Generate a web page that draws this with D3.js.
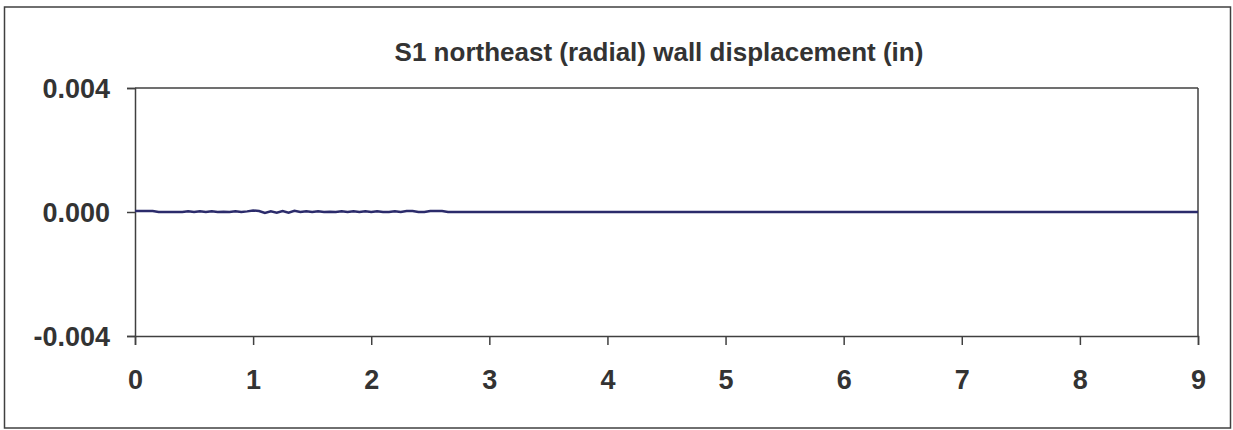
<!DOCTYPE html>
<html>
<head>
<meta charset="utf-8">
<script src="https://cdn.jsdelivr.net/npm/d3@7/dist/d3.min.js"></script>
<style>
  html, body { margin: 0; padding: 0; background: #fff; }
  svg { display: block; }
  text { font-family: "Liberation Sans", Arial, sans-serif; font-weight: bold; fill: #333; }
</style>
</head>
<body>
<svg id="chart" width="1233" height="430"></svg>
<script>
const title = "S1 northeast (radial) wall displacement (in)";
const xTicks = [0, 1, 2, 3, 4, 5, 6, 7, 8, 9];
const yTicks = [-0.004, 0.000, 0.004];
const yTickLabels = ["-0.004", "0.000", "0.004"];

// time (s)
const time = [0, 0.05, 0.1, 0.15, 0.2, 0.25, 0.3, 0.35, 0.4, 0.45,
  0.5, 0.55, 0.6, 0.65, 0.7, 0.75, 0.8, 0.85, 0.9, 0.95,
  1.0, 1.05, 1.1, 1.15, 1.2, 1.25, 1.3, 1.35, 1.4, 1.45,
  1.5, 1.55, 1.6, 1.65, 1.7, 1.75, 1.8, 1.85, 1.9, 1.95,
  2.0, 2.05, 2.1, 2.15, 2.2, 2.25, 2.3, 2.35, 2.4, 2.45,
  2.5, 2.55, 2.6, 2.65, 2.7, 3, 4, 5, 6, 7, 8, 9];
// displacement (in)
const displacement = [0.00003, 0.00003, 0.00003, 0.00003, 0, 0, 0, 0, 0, 0.00002,
  0, 0.00002, 0, 0.00002, 0, 0.00001, 0, 0.00002, 0, 0.00002,
  0.00005, 0.00003, -0.00003, 0.00002, -0.00002, 0.00003, -0.00002, 0.00004, 0, 0.00002,
  0, 0.00002, 0, 0.00001, 0, 0.00002, 0, 0.00002, 0, 0.00002,
  0, 0.00002, 0, 0, 0.00002, 0, 0.00003, 0.00003, 0, 0,
  0.00003, 0.00003, 0.00003, 0, 0, 0, 0, 0, 0, 0, 0, 0];

const svg = d3.select("#chart");
const axisColor = "#404040";

svg.append("rect")
  .attr("x", 4.5).attr("y", 7).attr("width", 1226).attr("height", 421)
  .attr("fill", "none").attr("stroke", axisColor).attr("stroke-width", 1.5);

const x = d3.scaleLinear().domain([0, 9]).range([135, 1198]);
const y = d3.scaleLinear().domain([-0.004, 0.004]).range([336, 88]);

// plot frame (top & right lines)
svg.append("line").attr("x1", 135).attr("x2", 1198).attr("y1", 88).attr("y2", 88)
  .attr("stroke", axisColor).attr("stroke-width", 1.5);
svg.append("line").attr("x1", 1198).attr("x2", 1198).attr("y1", 88).attr("y2", 336)
  .attr("stroke", axisColor).attr("stroke-width", 1.5);

const xAxis = svg.append("g").attr("transform", "translate(0,336)")
  .call(d3.axisBottom(x).tickValues(xTicks).tickFormat(d3.format("d")).tickSize(9).tickPadding(25));
const yAxis = svg.append("g").attr("transform", "translate(135,0)")
  .call(d3.axisLeft(y).tickValues(yTicks).tickFormat((d, i) => yTickLabels[i]).tickSize(8).tickPadding(17));

[xAxis, yAxis].forEach(g => {
  g.select(".domain").attr("stroke", axisColor).attr("stroke-width", 1.5);
  g.selectAll(".tick line").attr("stroke", axisColor).attr("stroke-width", 1.5);
  g.selectAll(".tick text").attr("font-size", 27).attr("fill", "#333")
    .attr("font-family", "Liberation Sans, Arial, sans-serif").attr("font-weight", "bold");
});
yAxis.selectAll(".tick text").attr("dy", "0.35em");

const line = d3.line().x((d, i) => x(time[i])).y(d => y(d)).curve(d3.curveLinear);
svg.append("path").datum(displacement)
  .attr("d", line).attr("fill", "none")
  .attr("stroke", "#2b2b6b").attr("stroke-width", 2.5);

svg.append("text").attr("x", 659).attr("y", 61)
  .attr("text-anchor", "middle").attr("font-size", 26).text(title);
</script>
</body>
</html>
